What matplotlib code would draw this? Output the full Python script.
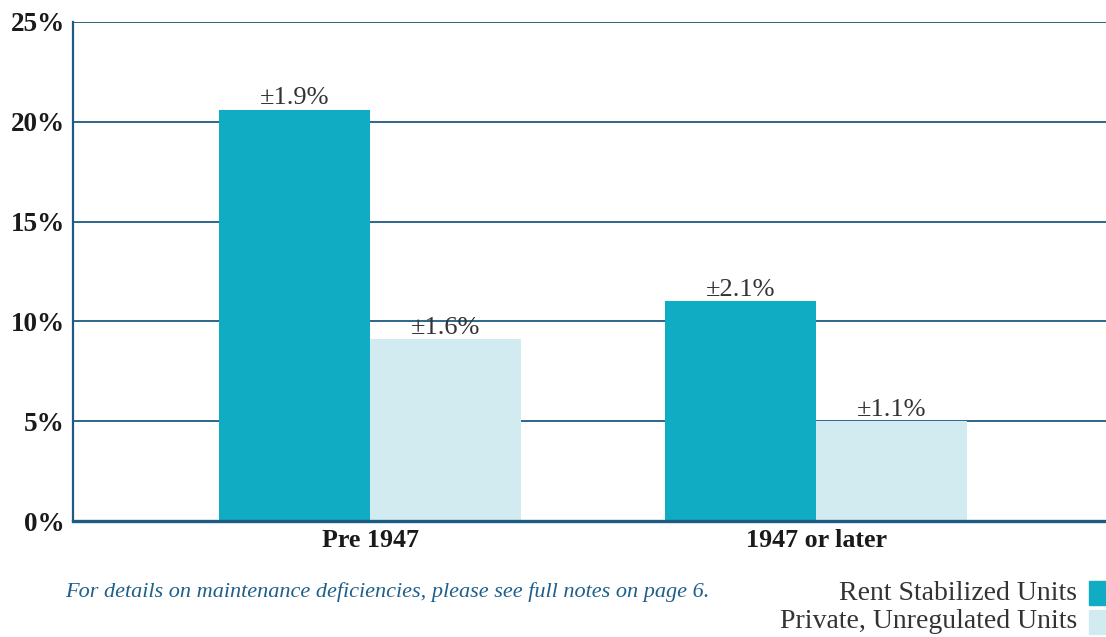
import numpy as np
import matplotlib
matplotlib.use("Agg")
import matplotlib.pyplot as plt
from matplotlib.patches import Rectangle

# data
categories = ["Pre 1947", "1947 or later"]
rent_stabilized = [20.6, 11.0]
private_unreg = [9.1, 5.0]
rent_moe = ["\u00b11.9%", "\u00b12.1%"]
private_moe = ["\u00b11.6%", "\u00b11.1%"]
yticks = [0, 5, 10, 15, 20, 25]
series_names = ["Rent Stabilized Units", "Private, Unregulated Units"]

c_rent = "#10acc4"
c_priv = "#d2ebf0"
c_line = "#1d5b82"
c_text = "#333333"

plt.rcParams["font.family"] = ["Liberation Serif", "DejaVu Serif"]

fig = plt.figure(figsize=(11.06, 6.37), dpi=100)
ax = fig.add_axes([0.066, 0.182, 0.934, 0.7835])

x = np.arange(len(categories))
w = 0.3386
b1 = ax.bar(x - w / 2, rent_stabilized, w, color=c_rent, zorder=3)
b2 = ax.bar(x + w / 2, private_unreg, w, color=c_priv, zorder=3)

for bars, labels in ((b1, rent_moe), (b2, private_moe)):
    for r, lab in zip(bars, labels):
        ax.text(r.get_x() + r.get_width() / 2, r.get_height() + 0.03, lab,
                ha="center", va="bottom", fontsize=19, color=c_text, zorder=4)

ax.set_xlim(-0.666, 1.65)
ax.set_ylim(0, 25)
ax.set_yticks(yticks)
ax.set_yticklabels([f"{t}%" for t in yticks], fontsize=19.5, fontweight="bold",
                   color="#1a1a1a")
ax.set_xticks(x)
ax.set_xticklabels(categories, fontsize=18.7, fontweight="bold", color="#1a1a1a")
ax.tick_params(axis="both", length=0)
ax.tick_params(axis="y", pad=6)
ax.tick_params(axis="x", pad=6)

ax.yaxis.grid(True, color=c_line, linewidth=1.3, zorder=0)
ax.set_axisbelow(True)
for s in ("top", "right"):
    ax.spines[s].set_visible(False)
ax.spines["left"].set_color(c_line)
ax.spines["left"].set_linewidth(1.6)
ax.spines["bottom"].set_color(c_line)
ax.spines["bottom"].set_linewidth(2.4)
ax.spines["bottom"].set_zorder(5)

fig.text(65 / 1106, 1 - 592 / 637,
         "For details on maintenance deficiencies, please see full notes on page 6.",
         fontsize=16, style="italic", color="#1f5f8b", ha="left", va="center")

# legend (text right-aligned with swatch to the right)
legend_y = [593, 622]
for name, col, yy in zip(series_names, [c_rent, c_priv], legend_y):
    fig.text(1077 / 1106, 1 - yy / 637, name, fontsize=20, color=c_text,
             ha="right", va="center")
    fig.patches.append(Rectangle((1089 / 1106, 1 - (yy + 12) / 637),
                                 17 / 1106, 24 / 637, transform=fig.transFigure,
                                 color=col, figure=fig))

fig.savefig("out.png", dpi=100)
